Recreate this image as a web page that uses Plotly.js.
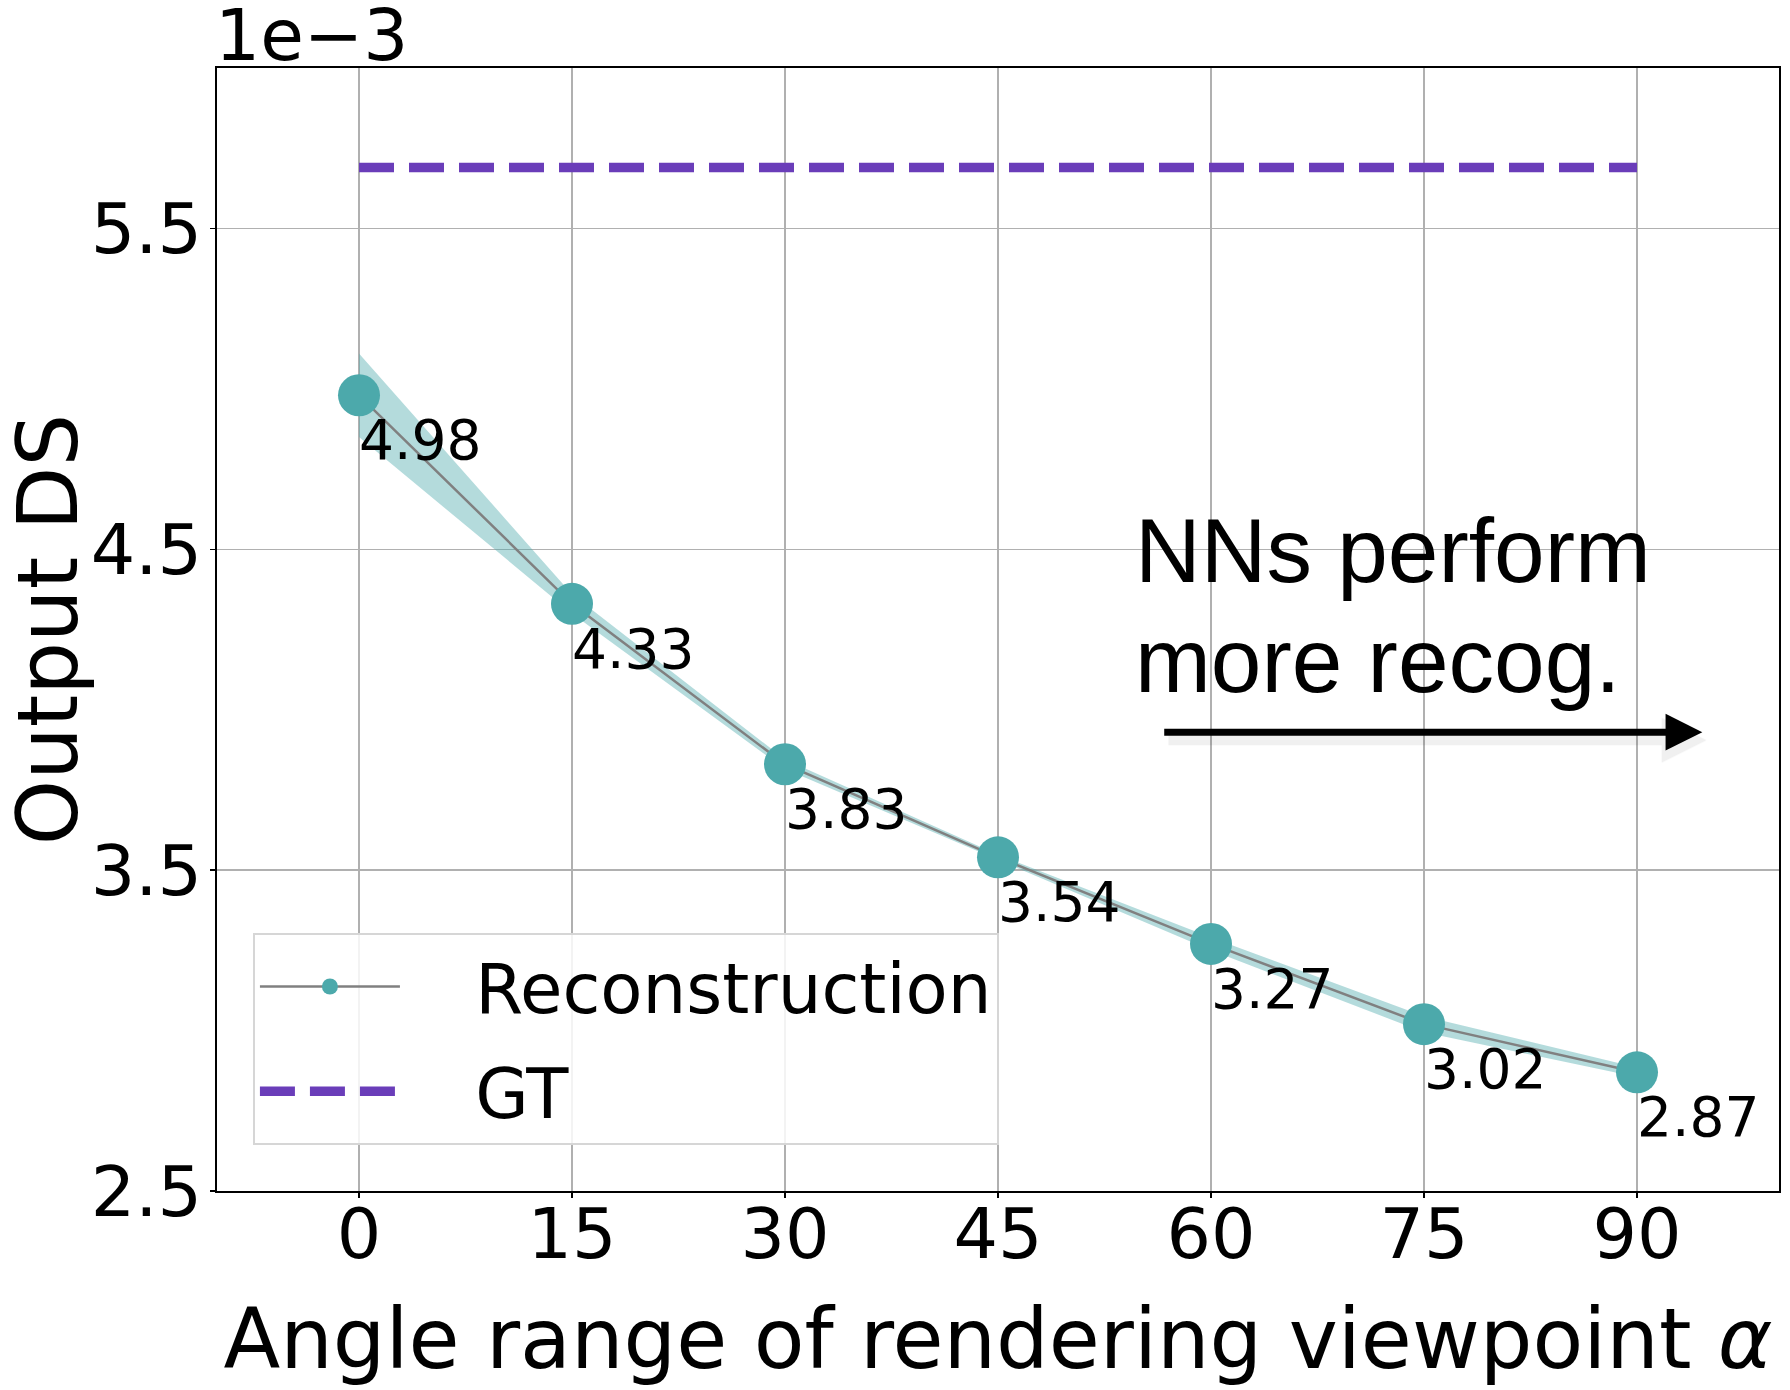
<!DOCTYPE html>
<html>
<head>
<meta charset="utf-8">
<script src="https://cdn.plot.ly/plotly-3.0.1.min.js"></script>
<style>
  body { margin: 0; background: #fff; }
  #chart { width: 1790px; height: 1390px; }
</style>
</head>
<body>
<div id="chart"></div>
<script>
// angle range of rendering viewpoint (deg)
const angles = [0, 15, 30, 45, 60, 75, 90]
// output DS, in units of 1e-3
const recon = [4.98, 4.33, 3.83, 3.54, 3.27, 3.02, 2.87]
// spread of the shaded band
const reconStd = [0.13, 0.03, 0.015, 0.008, 0.02, 0.025, 0.015]
const gtValue = 5.69
const yTicks = [2.5, 3.5, 4.5, 5.5]

const teal = '#4ca9ab'
const purple = '#6a3db9'
const font = 'DejaVu Sans, sans-serif'
const calloutFont = 'Liberation Sans, Arial, sans-serif'
const gap = '\u2002\u00a0\u2009'  // space between legend symbol and text

let upper = []
let lower = []
for (let i = 0; i < recon.length; i++) {
    upper[i] = recon[i] + reconStd[i]
    lower[i] = recon[i] - reconStd[i]
}

let gtTrace = {
    x: [angles[0], angles[angles.length - 1]],
    y: [gtValue, gtValue],
    mode: 'lines',
    name: gap + 'GT',
    legendgroup: 'gt',
    legendrank: 2,
    line: {color: purple, width: 9.5, dash: '35px,15px'},
    type: 'scatter'
}

let bandLow = {
    x: angles,
    y: lower,
    mode: 'lines',
    line: {width: 0},
    showlegend: false,
    hoverinfo: 'skip',
    type: 'scatter'
}

let bandHigh = {
    x: angles,
    y: upper,
    mode: 'lines',
    line: {width: 0},
    fill: 'tonexty',
    fillcolor: 'rgba(76,169,171,0.42)',
    showlegend: false,
    hoverinfo: 'skip',
    type: 'scatter'
}

let reconTrace = {
    x: angles,
    y: recon,
    mode: 'lines+markers',
    name: gap + 'Reconstruction',
    legendgroup: 'rec',
    legendrank: 1,
    line: {color: '#808080', width: 2.5},
    marker: {color: teal, size: 42},
    type: 'scatter'
}

// value labels just below-right of each point
let annotations = []
for (let i = 0; i < angles.length; i++) {
    annotations.push({
        x: angles[i], y: recon[i],
        xref: 'x', yref: 'y',
        text: recon[i].toFixed(2),
        showarrow: false,
        xanchor: 'left', yanchor: 'middle',
        xshift: -2, yshift: -45,
        font: {family: font, size: 55, color: '#000'}
    })
}

// scale factor label
annotations.push({
    x: 0, y: 1, xref: 'paper', yref: 'paper',
    text: '1e\u22123',
    showarrow: false,
    xanchor: 'left', yanchor: 'bottom',
    xshift: -4, yshift: -11,
    font: {family: font, size: 71, color: '#000'}
})

// callout: text + arrow (with a soft shadow under the arrow)
annotations.push({
    x: 54.5, y: 4.497, xref: 'x', yref: 'y',
    text: 'NNs perform',
    showarrow: false, xanchor: 'left', yanchor: 'middle',
    font: {family: calloutFont, size: 91, color: '#000'}
})
annotations.push({
    x: 54.5, y: 4.154, xref: 'x', yref: 'y',
    text: 'more recog.',
    showarrow: false, xanchor: 'left', yanchor: 'middle',
    font: {family: calloutFont, size: 91, color: '#000'}
})
annotations.push({
    x: 94.9, y: 3.905, xref: 'x', yref: 'y',
    ax: 56.9, ay: 3.905, axref: 'x', ayref: 'y',
    text: '',
    showarrow: true,
    arrowhead: 2, arrowsize: 0.9, arrowwidth: 10,
    arrowcolor: 'rgba(0,0,0,0.06)'
})
annotations.push({
    x: 94.6, y: 3.93, xref: 'x', yref: 'y',
    ax: 56.6, ay: 3.93, axref: 'x', ayref: 'y',
    text: '',
    showarrow: true,
    arrowhead: 2, arrowsize: 1.05, arrowwidth: 7,
    arrowcolor: '#000'
})

let layout = {
    width: 1790,
    height: 1390,
    margin: {l: 217, r: 11, t: 68, b: 199},
    paper_bgcolor: '#fff',
    plot_bgcolor: '#fff',
    font: {family: font, color: '#000'},
    showlegend: true,
    legend: {
        x: 0.023, y: 0.2296,
        xanchor: 'left', yanchor: 'top',
        bgcolor: 'rgba(255,255,255,0.85)',
        bordercolor: '#d6d6d6',
        borderwidth: 2,
        itemwidth: 140,
        tracegroupgap: 12,
        font: {family: font, size: 69, color: '#000'},
        traceorder: 'grouped'
    },
    xaxis: {
        range: [-10, 100],
        tickvals: angles,
        ticks: 'outside', ticklen: 5, tickwidth: 1.5, tickcolor: '#000',
        ticklabelstandoff: -24,
        tickfont: {family: font, size: 70, color: '#000'},
        showgrid: true, gridcolor: '#b0b0b0', gridwidth: 1.5,
        zeroline: false,
        showline: true, linecolor: '#000', linewidth: 2, mirror: true,
        title: {
            text: 'Angle range of rendering viewpoint <i>\u03b1</i>',
            font: {family: font, size: 83, color: '#000'},
            standoff: 36
        }
    },
    yaxis: {
        range: [2.5, 6.0],
        tickvals: yTicks,
        ticktext: yTicks.map(v => v.toFixed(1)),
        ticks: 'outside', ticklen: 5, tickwidth: 1.5, tickcolor: '#000',
        ticklabelstandoff: -6,
        tickfont: {family: font, size: 70, color: '#000'},
        showgrid: true, gridcolor: '#b0b0b0', gridwidth: 1.5,
        zeroline: false,
        showline: true, linecolor: '#000', linewidth: 2, mirror: true,
        title: {
            text: 'Output DS',
            font: {family: font, size: 83, color: '#000'},
            standoff: 20
        }
    },
    annotations: annotations
}

Plotly.newPlot('chart', [gtTrace, bandLow, bandHigh, reconTrace], layout, {staticPlot: true})
</script>
</body>
</html>
